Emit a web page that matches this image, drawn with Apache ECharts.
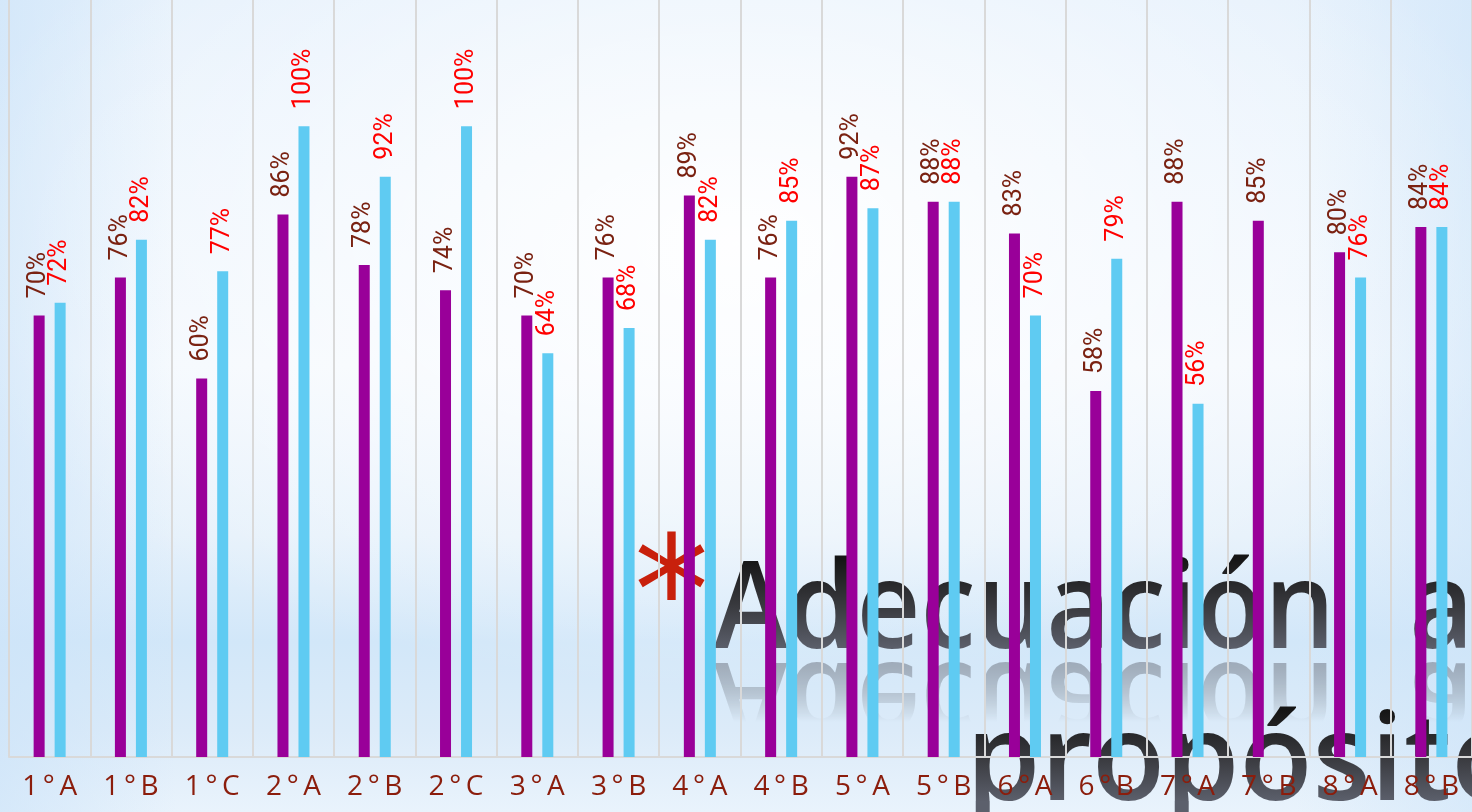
<!DOCTYPE html>
<html>
<head>
<meta charset="utf-8">
<script src="https://cdn.jsdelivr.net/npm/echarts@6/dist/echarts.min.js"></script>
<style>
  body { margin: 0; }
  #slide {
    position: relative; width: 1472px; height: 812px; overflow: hidden;
    background:
      radial-gradient(ellipse 55% 55% at 50% 30%, rgba(255,255,255,0.95) 0%, rgba(255,255,255,0) 100%),
      linear-gradient(90deg, rgba(205,228,249,0.7) 0%, rgba(205,228,249,0) 12%, rgba(205,228,249,0) 88%, rgba(205,228,249,0.6) 100%),
      linear-gradient(180deg, #e6f1fc 0%, #f3f8fe 45%, #e6f1fb 66%, #d2e7f9 79%, #dcebf9 90%, #e9f3fc 100%);
  }
  #chart { position: absolute; left: 0; top: 0; width: 1472px; height: 812px; z-index: 2; }
  .titulo {
    position: absolute; z-index: 1; white-space: nowrap;
    font-family: "Open Sans"; font-weight: 600; font-size: 122px; line-height: 122px;
    transform-origin: 0 0;
    background: linear-gradient(180deg, #151515 15%, #3a3b40 55%, #5c606c 90%);
    -webkit-background-clip: text; background-clip: text; color: transparent;
    -webkit-box-reflect: below -13px linear-gradient(transparent 40%, rgba(0,0,0,0.55));
  }
  #t1 { transform: scaleX(0.91); word-spacing: 50px; }
  #t2 { transform: scaleX(0.98); }
  #ast {
    position: absolute; z-index: 1; font-family: "DejaVu Sans"; font-size: 150px;
    line-height: 150px; color: #c8200c;
  }
</style>
</head>
<body>
<div id="slide">
  <div id="ast" style="left:634px; top:516px;">*</div>
  <div class="titulo" id="t1" style="left:714px; top:540px;"></div>
  <div class="titulo" id="t2" style="left:966px; top:692px;"></div>
  <div id="chart"></div>
</div>
<script>
// grupos
const grupos = ['1°A', '1°B', '1°C', '2°A', '2°B', '2°C', '3°A', '3°B', '4°A',
                '4°B', '5°A', '5°B', '6°A', '6°B', '7°A', '7°B', '8°A', '8°B'];
// porcentajes, serie morada y serie celeste
const serieMorada = [70, 76, 60, 86, 78, 74, 70, 76, 89, 76, 92, 88, 83, 58, 88, 85, 80, 84];
const serieCeleste = [72, 82, 77, 100, 92, 100, 64, 68, 82, 85, 87, 88, 70, 79, 56, null, 76, 84];

const titulo1 = 'Adecuación a';
const titulo2 = 'propósito';

document.getElementById('t1').textContent = titulo1;
document.getElementById('t2').textContent = titulo2;

var chart = echarts.init(document.getElementById('chart'));

function barLabel(color) {
    return {
        show: true,
        position: 'top',
        rotate: 90,
        align: 'left',
        verticalAlign: 'middle',
        distance: 17,
        formatter: '{c}%',
        color: color,
        fontSize: 25,
        fontFamily: 'Roboto'
    };
}

var option = {
    animation: false,
    backgroundColor: 'transparent',
    grid: { left: 9, width: 1465, top: 0, bottom: 55 },
    xAxis: {
        type: 'category',
        data: grupos,
        axisTick: { show: false },
        axisLine: { lineStyle: { color: '#d9d9d9', width: 2 } },
        splitLine: { show: true, lineStyle: { color: '#d9d9d9', width: 2 } },
        axisLabel: {
            color: '#8b1d0c',
            fontSize: 28,
            fontFamily: 'Open Sans',
            margin: 16,
            formatter: v => v.split('').join('\u2009')
        }
    },
    yAxis: { type: 'value', min: 0, max: 120, show: false },
    series: [
        {
            type: 'bar',
            name: 'morado',
            data: serieMorada,
            barWidth: 11,
            barGap: '91%',
            itemStyle: { color: '#990099' },
            label: barLabel('#7a2212')
        },
        {
            type: 'bar',
            name: 'celeste',
            data: serieCeleste,
            barWidth: 11,
            itemStyle: { color: '#5fcbf2' },
            label: barLabel('#ff0000')
        }
    ]
};

chart.setOption(option);
</script>
</body>
</html>
